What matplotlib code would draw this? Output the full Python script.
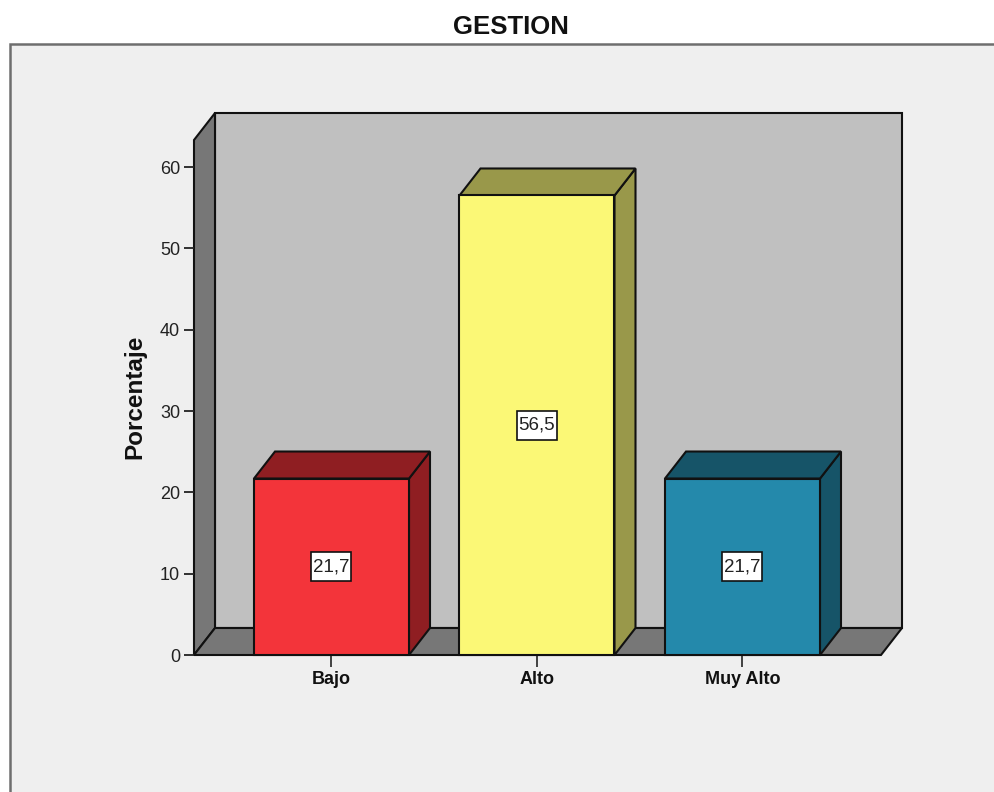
import matplotlib
matplotlib.use("Agg")
import matplotlib.pyplot as plt
from matplotlib.patches import Polygon, Rectangle

categories = ["Bajo", "Alto", "Muy Alto"]
percentages = [21.7, 56.5, 21.7]
value_labels = ["21,7", "56,5", "21,7"]
y_ticks = [0, 10, 20, 30, 40, 50, 60]

front_colors = ["#f3343a", "#fbf876", "#2489ab"]
side_colors = ["#8f1e22", "#99984a", "#165468"]

W, H = 995, 792
LEFT, RIGHT, BOTTOM, TOP = 194, 881, 655, 140
UNIT_X = 205.5    # pixels between categories
UNIT_Y = 8.133    # pixels per percentage point
DX = 21 / UNIT_X  # depth of the 3D box in data units
DY = 27 / UNIT_Y
BAR_W = 155 / UNIT_X
BOX_W = 40 / UNIT_X  # white value box
BOX_H = 29 / UNIT_Y

plt.rcParams["font.family"] = ["Liberation Sans", "DejaVu Sans"]

fig = plt.figure(figsize=(W / 100, H / 100), dpi=100, facecolor="white")

# chart panel, runs off the right and bottom edges
bg = fig.add_axes([0, 0, 1, 1])
bg.set_xlim(0, W)
bg.set_ylim(H, 0)
bg.axis("off")
bg.add_patch(Rectangle((10, 44), W, H, fc="#efefef", ec="#6e6e6e", lw=1.8))
bg.text(510.5, 27, "GESTION", ha="center", va="center", fontsize=18.5,
        color="#111111", fontweight="bold")

ax = fig.add_axes([LEFT / W, 1 - BOTTOM / H, (RIGHT - LEFT) / W, (BOTTOM - TOP) / H])
ax.patch.set_visible(False)
x0 = (LEFT - 331.5) / UNIT_X
x1 = x0 + (RIGHT - LEFT) / UNIT_X
ymax = (BOTTOM - TOP) / UNIT_Y
ax.set_xlim(x0, x1)
ax.set_ylim(0, ymax)


def face(points, color, z=1):
    ax.add_patch(Polygon(points, closed=True, fc=color, ec="#111111", lw=1.5,
                         joinstyle="miter", clip_on=False, zorder=z))


# back wall, side wall, floor
face([(x0 + DX, DY), (x1 + DX, DY), (x1 + DX, ymax + DY), (x0 + DX, ymax + DY)], "#c0c0c0")
face([(x0, 0), (x0 + DX, DY), (x0 + DX, ymax + DY), (x0, ymax)], "#777777")
face([(x0, 0), (x1, 0), (x1 + DX, DY), (x0 + DX, DY)], "#777777")

# bars with their top and side faces
for i, val in enumerate(percentages):
    l, r = i - BAR_W / 2, i + BAR_W / 2
    face([(r, 0), (r + DX, DY), (r + DX, val + DY), (r, val)], side_colors[i], 3)
    face([(l, val), (r, val), (r + DX, val + DY), (l + DX, val + DY)], side_colors[i], 3)
    face([(l, 0), (r, 0), (r, val), (l, val)], front_colors[i], 4)
    ax.add_patch(Rectangle((i - BOX_W / 2, val / 2 - BOX_H / 2), BOX_W, BOX_H,
                           fc="white", ec="#111111", lw=1.2, zorder=5))
    ax.text(i, val / 2, value_labels[i], ha="center", va="center", fontsize=13.5,
            color="#222222", zorder=6)

for side in ["top", "right", "bottom", "left"]:
    ax.spines[side].set_visible(False)

ax.set_xticks(range(len(categories)))
ax.set_xticklabels(categories, fontsize=13, fontweight="bold", color="#111111")
ax.set_yticks(y_ticks)
ax.set_yticklabels([str(t) for t in y_ticks], fontsize=13, color="#222222")
ax.tick_params(axis="x", length=8.5, width=1.3, color="#333333", pad=3)
ax.tick_params(axis="y", length=7.5, width=1.3, color="#222222", pad=2.5)
ax.set_ylabel("Porcentaje", fontsize=17.5, fontweight="bold", color="#111111")
ax.yaxis.set_label_coords((146 - LEFT) / (RIGHT - LEFT), (BOTTOM - 397) / (BOTTOM - TOP))

fig.savefig("out.png", dpi=100)
